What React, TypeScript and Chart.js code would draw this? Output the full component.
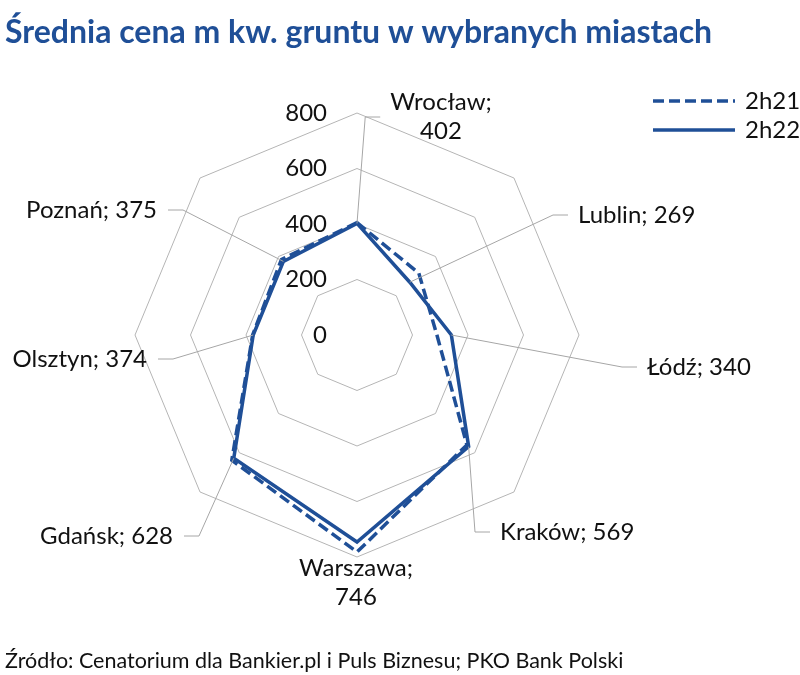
import React, { useEffect, useRef } from 'react';
import { Chart, registerables } from 'chart.js';

Chart.register(...registerables);

const cities = ['Wrocław', 'Lublin', 'Łódź', 'Kraków', 'Warszawa', 'Gdańsk', 'Olsztyn', 'Poznań'];
const values2h21 = [405, 315, 288, 560, 782, 638, 376, 385];
const values2h22 = [402, 269, 340, 569, 746, 628, 374, 375];
const seriesNames = ['2h21', '2h22'];
const tickValues = [0, 200, 400, 600, 800];
const titleText = 'Średnia cena m kw. gruntu w wybranych miastach';
const sourceText = 'Źródło: Cenatorium dla Bankier.pl i Puls Biznesu; PKO Bank Polski';

const BLUE = '#1f4f97';
const GRID = '#b5b5b5';
const FONT = 'Lato, "Open Sans", sans-serif';

// label placement relative to the radar centre (px); anchor = edge on leader side
type LabelLayout = { dx: number; dy: number; align: 'left' | 'right' | 'center'; twoLine: boolean; leader: 'left' | 'right' | 'none' };
const labelLayout: LabelLayout[] = [
  { dx: 84, dy: -218, align: 'center', twoLine: true, leader: 'left' },
  { dx: 221, dy: -120, align: 'left', twoLine: false, leader: 'left' },
  { dx: 290, dy: 32, align: 'left', twoLine: false, leader: 'left' },
  { dx: 143, dy: 197, align: 'left', twoLine: false, leader: 'left' },
  { dx: -1, dy: 248, align: 'center', twoLine: true, leader: 'none' },
  { dx: -184, dy: 201, align: 'right', twoLine: false, leader: 'right' },
  { dx: -210, dy: 24, align: 'right', twoLine: false, leader: 'right' },
  { dx: -200, dy: -125, align: 'right', twoLine: false, leader: 'right' },
];

const overlayPlugin = {
  id: 'overlay',
  afterDraw(chart: any) {
    const ctx = chart.ctx as CanvasRenderingContext2D;
    const scale = chart.scales.r;
    const cx = scale.xCenter;
    const cy = scale.yCenter;
    ctx.save();

    // title
    ctx.fillStyle = BLUE;
    ctx.font = `bold 32px ${FONT}`;
    ctx.textAlign = 'left';
    ctx.textBaseline = 'alphabetic';
    ctx.fillText(titleText, 5, 43);

    // source
    ctx.fillStyle = '#111';
    ctx.font = `21.5px ${FONT}`;
    ctx.fillText(sourceText, 5, 668);

    // tick labels
    ctx.font = `24px ${FONT}`;
    ctx.textAlign = 'right';
    ctx.textBaseline = 'middle';
    tickValues.forEach((v) => {
      const d = scale.getDistanceFromCenterForValue(v);
      ctx.fillText(String(v), cx - 30, cy - d);
    });

    // data labels with leader lines
    labelLayout.forEach((L, i) => {
      const p = scale.getPointPositionForValue(i, values2h22[i]);
      const lines = L.twoLine ? [cities[i] + ';', String(values2h22[i])] : [cities[i] + '; ' + values2h22[i]];
      const ax = cx + L.dx;
      const ay = cy + L.dy;
      const lh = 29;
      const widths = lines.map((t) => ctx.measureText(t).width);
      const maxW = Math.max(...widths);
      let left: number;
      if (L.align === 'left') left = ax;
      else if (L.align === 'right') left = ax - maxW;
      else left = ax - maxW / 2;
      const right = left + maxW;

      if (L.leader !== 'none') {
        ctx.strokeStyle = '#a6a6a6';
        ctx.lineWidth = 1;
        ctx.beginPath();
        if (L.leader === 'left') {
          ctx.moveTo(left - 10, ay);
          ctx.lineTo(left - 25, ay);
        } else {
          ctx.moveTo(right + 11, ay);
          ctx.lineTo(right + 26, ay);
        }
        ctx.lineTo(p.x, p.y);
        ctx.stroke();
      }

      ctx.fillStyle = '#111';
      ctx.textAlign = 'center';
      ctx.textBaseline = 'middle';
      const startY = ay - ((lines.length - 1) * lh) / 2;
      lines.forEach((t, k) => {
        ctx.fillText(t, left + maxW / 2, startY + k * lh);
      });
    });

    // legend
    const legendRows = [
      { name: seriesNames[0], dash: [11, 5], y: 101 },
      { name: seriesNames[1], dash: [], y: 130 },
    ];
    legendRows.forEach((r) => {
      ctx.strokeStyle = BLUE;
      ctx.lineWidth = 3.5;
      ctx.setLineDash(r.dash);
      ctx.beginPath();
      ctx.moveTo(653, r.y);
      ctx.lineTo(735, r.y);
      ctx.stroke();
      ctx.setLineDash([]);
      ctx.fillStyle = '#111';
      ctx.textAlign = 'left';
      ctx.textBaseline = 'middle';
      ctx.font = `24px ${FONT}`;
      ctx.fillText(r.name, 745, r.y);
    });

    ctx.restore();
  },
};

export default function App() {
  const canvasRef = useRef<HTMLCanvasElement | null>(null);

  useEffect(() => {
    const canvas = canvasRef.current;
    if (!canvas) return;
    const chart = new Chart(canvas, {
      type: 'radar',
      data: {
        labels: cities,
        datasets: [
          {
            label: seriesNames[0],
            data: values2h21,
            borderColor: BLUE,
            borderWidth: 3.5,
            borderDash: [11, 5],
            pointRadius: 0,
            fill: false,
            order: 2,
          },
          {
            label: seriesNames[1],
            data: values2h22,
            borderColor: BLUE,
            borderWidth: 3.5,
            pointRadius: 0,
            fill: false,
            order: 1,
          },
        ],
      },
      options: {
        responsive: false,
        animation: false,
        layout: { padding: { left: 135, right: 221, top: 113, bottom: 118 } },
        plugins: { legend: { display: false }, tooltip: { enabled: false } },
        scales: {
          r: {
            min: 0,
            max: 800,
            ticks: { display: false, stepSize: 200 },
            grid: { color: GRID, lineWidth: 1 },
            angleLines: { display: false },
            pointLabels: { display: false },
          },
        },
      },
      plugins: [overlayPlugin],
    });
    return () => chart.destroy();
  }, []);

  return (
    <div style={{ position: 'absolute', left: 0, top: 0, width: 800, height: 675, background: '#fff' }}>
      <canvas ref={canvasRef} width={800} height={675} style={{ display: 'block' }} />
    </div>
  );
}
